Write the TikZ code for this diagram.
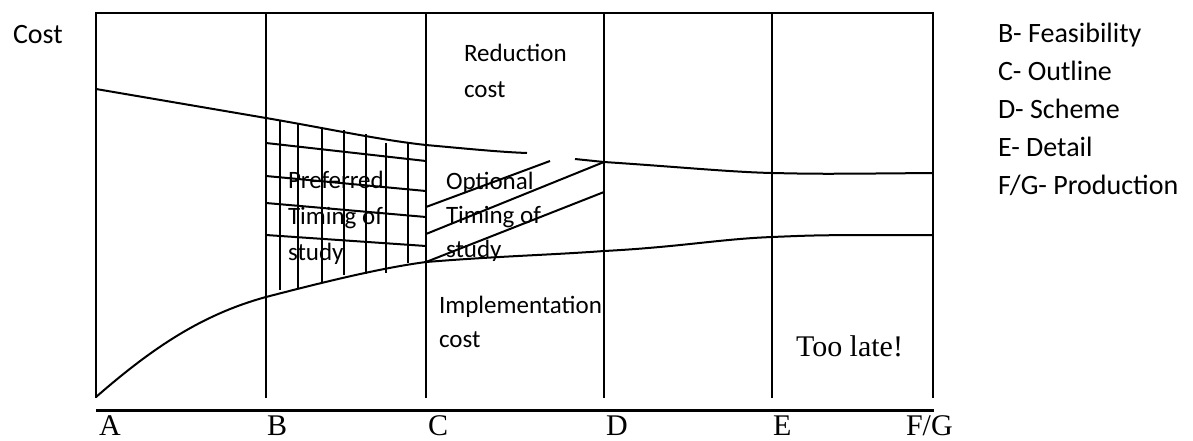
\documentclass[tikz,border=0pt]{standalone}
\usepackage{fontspec}
\setmainfont{Carlito}
\newfontfamily\stagefont{Liberation Serif}

\begin{document}
\begin{tikzpicture}[x=1pt, y=-1pt, line width=2pt,
  lbl/.style={anchor=base west, inner sep=0pt, font=\fontsize{25}{30}\selectfont},
  leg/.style={anchor=base west, inner sep=0pt, font=\fontsize{28}{34}\selectfont},
  stage/.style={anchor=base west, inner sep=0pt, font=\stagefont\fontsize{30}{36}\selectfont}]

\useasboundingbox (0,0) rectangle (1193,440);

% frame and stage boundaries
\draw (96,398) -- (96,13) -- (933,13) -- (933,398);
\foreach \x in {266,426,604,772}
  \draw (\x,13) -- (\x,398);
\draw[line width=3pt] (96,410) -- (934,410);

% reduction cost curve (with a gap before D)
\draw (96,89) -- (266,118)
  .. controls (330,129) and (380,140) .. (426,145)
  .. controls (470,149) and (500,152) .. (527,153);
\draw (575,159) -- (604,162);
\draw (604,162) .. controls (680,167) and (730,172) .. (772,173)
  .. controls (820,174) .. (933,173);

% implementation cost curve
\draw (96,397) .. controls (150,350) and (200,315) .. (266,297)
  .. controls (320,283) and (380,268) .. (426,262)
  .. controls (500,256) and (550,255) .. (604,251)
  .. controls (680,247) and (720,239) .. (772,237)
  .. controls (820,235) .. (933,235);

% preferred timing grid
\foreach \x/\t/\b in {280/121/290, 298/123/289, 322/127/282, 344/130/275,
                      366/134/274, 386/143/273, 408/143/263}
  \draw (\x,\t) -- (\x,\b);
\foreach \l/\r in {143/161, 176/191, 203/217, 235/246}
  \draw (266,\l) -- (426,\r);

% optional timing band
\draw (426,207) -- (550,161);
\draw (426,234) -- (604,162);
\draw (426,262) -- (604,192);

% labels
\node[leg] (cost) at (12,43) {Cost};

\node[lbl] (red1) at (463,61) {Reduction};
\node[lbl] (red2) at (463,97) {cost};

\node[lbl] (pref1) at (287,188) {Preferred};
\node[lbl] (pref2) at (287,224) {Timing of};
\node[lbl] (pref3) at (287,260) {study};

\node[lbl] (opt1) at (445,189) {Optional};
\node[lbl] (opt2) at (445,223) {Timing of};
\node[lbl] (opt3) at (445,257) {study};

\node[lbl] (impl1) at (438,313) {Implementation};
\node[lbl] (impl2) at (438,347) {cost};

\node[stage] (late) at (795,356) {Too late!};

% stage letters
\foreach \x/\s [count=\i] in {98/A, 266/B, 427/C, 605/D, 772/E, 905/F\slash G}
  \node[stage] (st\i) at (\x,435) {\s};

% legend
\foreach \s [count=\i] in {B- Feasibility, C- Outline, D- Scheme,
                           E- Detail, F/G- Production}
  \node[leg] (leg\i) at (997,{42+38.2*(\i-1)}) {\s};

\end{tikzpicture}
\end{document}
